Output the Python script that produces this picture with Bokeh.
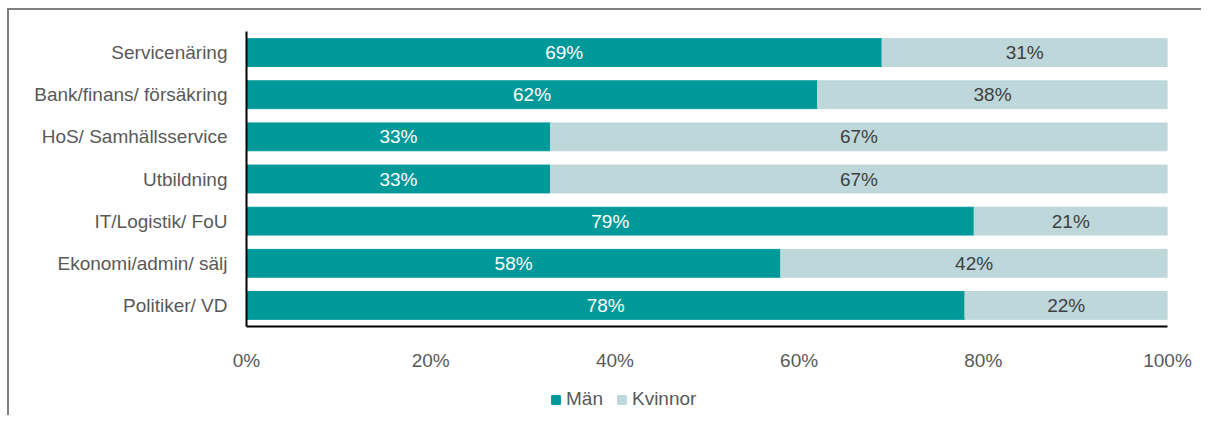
from bokeh.plotting import figure
from bokeh.layouts import column
from bokeh.models import ColumnDataSource, Legend, LegendItem, NumeralTickFormatter, FixedTicker, Range1d
from bokeh.core.properties import value
from bokeh.embed import file_html
from bokeh.resources import INLINE

categories = ["Servicenäring", "Bank/finans/ försäkring", "HoS/ Samhällsservice",
              "Utbildning", "IT/Logistik/ FoU", "Ekonomi/admin/ sälj", "Politiker/ VD"]
man = [69, 62, 33, 33, 79, 58, 78]
kvinnor = [31, 38, 67, 67, 21, 42, 22]
series_names = ["Män", "Kvinnor"]

FONT = "Liberation Sans"
FS = "19px"
TEAL = "#009999"
LIGHT = "#BDD7DA"

m = [v / 100 for v in man]
k = [v / 100 for v in kvinnor]
src = ColumnDataSource(dict(
    cat=categories,
    man_end=m,
    kv_end=[a + b for a, b in zip(m, k)],
    man_mid=[a / 2 for a in m],
    kv_mid=[a + b / 2 for a, b in zip(m, k)],
    man_lbl=[f"{v}%" for v in man],
    kv_lbl=[f"{v}%" for v in kvinnor],
))

W = 1192
p = figure(width=W, height=372, y_range=list(reversed(categories)), x_range=(0, 1),
           output_backend="svg", toolbar_location=None,
           min_border_left=237, min_border_right=34, min_border_top=21, min_border_bottom=56)
p.y_range.range_padding = 0
p.outline_line_color = None
p.grid.grid_line_color = None

p.hbar(y="cat", left=0, right="man_end", height=0.66, color=TEAL, source=src)
p.hbar(y="cat", left="man_end", right="kv_end", height=0.66, color=LIGHT, source=src)

p.text(x="man_mid", y="cat", text="man_lbl", source=src, text_align="center", text_baseline="middle",
       text_color="white", text_font=value(FONT), text_font_size=FS)
p.text(x="kv_mid", y="cat", text="kv_lbl", source=src, text_align="center", text_baseline="middle",
       text_color="#404040", text_font=value(FONT), text_font_size=FS)

p.xaxis.ticker = FixedTicker(ticks=[0, 0.2, 0.4, 0.6, 0.8, 1.0])
p.xaxis.formatter = NumeralTickFormatter(format="0%")
for ax in (p.xaxis[0], p.yaxis[0]):
    ax.major_tick_line_color = None
    ax.minor_tick_line_color = None
    ax.major_label_text_font = FONT
    ax.major_label_text_font_size = FS
    ax.major_label_text_color = "#595959"
    ax.axis_line_color = "black"
    ax.axis_line_width = 2
p.xaxis.major_label_standoff = 17
p.yaxis.major_label_standoff = 13

# legend strip (renderers carry no visible data, only the legend swatches)
lp = figure(width=W, height=33, x_range=Range1d(0, 1), y_range=Range1d(0, 1),
            output_backend="svg", toolbar_location=None,
            min_border=0, min_border_left=0, min_border_right=0, min_border_top=0, min_border_bottom=0)
lp.axis.visible = False
lp.grid.grid_line_color = None
lp.outline_line_color = None
nan = float("nan")
empty = ColumnDataSource(dict(y=[nan], left=[nan], right=[nan]))
g1 = lp.hbar(y="y", left="left", right="right", height=1, color=TEAL, source=empty)
g2 = lp.hbar(y="y", left="left", right="right", height=1, color=LIGHT, source=empty)
legend = Legend(items=[LegendItem(label=series_names[0], renderers=[g1]),
                       LegendItem(label=series_names[1], renderers=[g2])],
                orientation="horizontal", location=(304, 5), label_text_font=FONT,
                label_text_font_size=FS, label_text_color="#595959",
                glyph_width=11, glyph_height=11, spacing=13, label_standoff=5,
                padding=0, margin=0,
                border_line_color=None, background_fill_alpha=0)
lp.add_layout(legend, "center")

layout = column(p, lp, spacing=0)
layout.styles = {"border-top": "2px solid #7f7f7f", "border-left": "2px solid #7f7f7f",
                 "margin-left": "7px", "margin-top": "8px"}

open("out.html", "w").write(file_html(layout, INLINE))
